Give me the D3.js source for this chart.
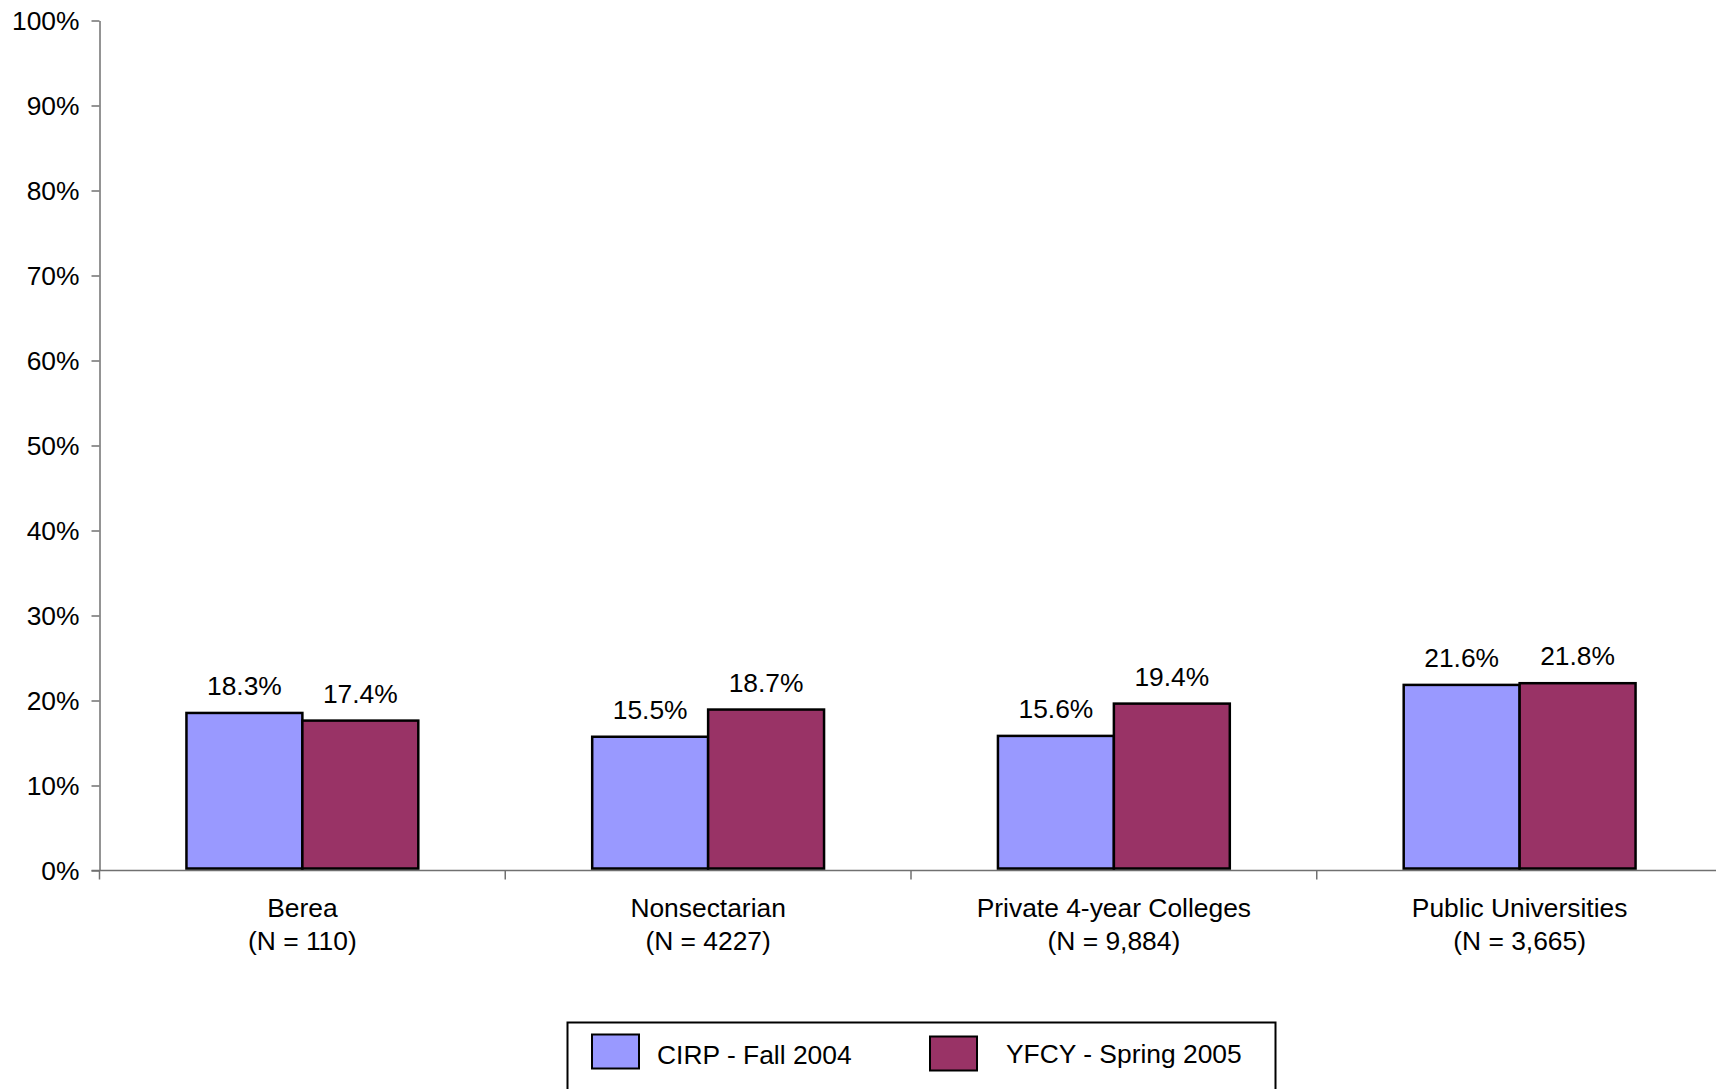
<!DOCTYPE html>
<html>
<head>
<meta charset="utf-8">
<script src="https://cdn.jsdelivr.net/npm/d3@7"></script>
<style>
  html, body { margin: 0; padding: 0; background: #fff; }
  svg { display: block; font-family: "Liberation Sans", Arial, sans-serif; }
</style>
</head>
<body>
<svg id="chart" width="1716" height="1089"></svg>
<script>
const categories = ["Berea", "Nonsectarian", "Private 4-year Colleges", "Public Universities"];
const categorySubLabels = ["(N = 110)", "(N = 4227)", "(N = 9,884)", "(N = 3,665)"];
const seriesNames = ["CIRP - Fall 2004", "YFCY - Spring 2005"];
const cirpValues = [18.3, 15.5, 15.6, 21.6];
const yfcyValues = [17.4, 18.7, 19.4, 21.8];
const seriesColors = ["#9999FF", "#993366"];
const yTicks = [0, 10, 20, 30, 40, 50, 60, 70, 80, 90, 100];

(function () {
const FS = 26.4;
const svg = d3.select("#chart");
const mLeft = 99.5, mRight = 1722.5, mTop = 20.5, mBottom = 870.5;

const y = d3.scaleLinear().domain([0, 100]).range([mBottom, mTop]);
const x0 = d3.scaleBand().domain(categories).range([mLeft, mRight]).paddingInner(0).paddingOuter(0);
const bw = x0.bandwidth();
const barW = bw / 3.5;
const x1 = d3.scaleBand().domain(seriesNames).range([(bw - 2 * barW) / 2, (bw + 2 * barW) / 2]).padding(0);

const seriesValues = [cirpValues, yfcyValues];
const data = categories.map((c, i) => ({
  cat: c,
  vals: seriesNames.map((s, j) => ({ series: s, value: seriesValues[j][i], color: seriesColors[j] }))
}));

// Y axis
const yAxis = d3.axisLeft(y).tickValues(yTicks).tickSize(8).tickSizeOuter(0).tickFormat(d => d + "%");
const gy = svg.append("g").attr("transform", `translate(${mLeft},0)`).call(yAxis);
gy.select(".domain").attr("stroke", "#707070").attr("stroke-width", 1.5);
gy.selectAll(".tick line").attr("stroke", "#707070").attr("stroke-width", 1.5);
gy.selectAll(".tick text").attr("x", -20).attr("dy", "0.35em")
  .attr("font-size", FS).attr("fill", "#000").attr("font-family", "Liberation Sans, Arial, sans-serif");

// X axis line and boundary ticks
svg.append("line").attr("x1", mLeft - 8).attr("x2", mRight).attr("y1", mBottom).attr("y2", mBottom)
  .attr("stroke", "#707070").attr("stroke-width", 1.5);
const boundaries = categories.map(c => x0(c)).concat([x0(categories[categories.length - 1]) + bw]);
svg.selectAll(".xtick").data(boundaries).enter().append("line")
  .attr("x1", d => d).attr("x2", d => d).attr("y1", mBottom).attr("y2", mBottom + 9)
  .attr("stroke", "#707070").attr("stroke-width", 1.5);

// Bars
const groups = svg.selectAll(".grp").data(data).enter().append("g")
  .attr("transform", d => `translate(${x0(d.cat)},0)`);
groups.selectAll("rect").data(d => d.vals).enter().append("rect")
  .attr("x", d => x1(d.series))
  .attr("width", x1.bandwidth())
  .attr("y", d => y(d.value) - 2)
  .attr("height", d => (mBottom - 2) - (y(d.value) - 2))
  .attr("fill", d => d.color)
  .attr("stroke", "#000").attr("stroke-width", 2.5);

groups.selectAll("text.val").data(d => d.vals).enter().append("text")
  .attr("class", "val")
  .attr("x", d => x1(d.series) + x1.bandwidth() / 2)
  .attr("y", d => y(d.value) - 20)
  .attr("text-anchor", "middle").attr("font-size", FS).attr("fill", "#000")
  .text(d => d.value.toFixed(1) + "%");

// Category labels
const catLabels = svg.selectAll(".cat").data(categories).enter().append("text")
  .attr("text-anchor", "middle").attr("font-size", FS).attr("fill", "#000");
catLabels.append("tspan").attr("x", d => x0(d) + bw / 2).attr("y", 917).text(d => d);
catLabels.append("tspan").attr("x", d => x0(d) + bw / 2).attr("y", 950).text((d, i) => categorySubLabels[i]);

// Legend
const lg = svg.append("g");
lg.append("rect").attr("x", 567.5).attr("y", 1022.5).attr("width", 708).attr("height", 100)
  .attr("fill", "#fff").attr("stroke", "#000").attr("stroke-width", 2);
const legendItems = [
  { name: seriesNames[0], color: seriesColors[0], sx: 592, sy: 1034.5, tx: 657, ty: 1064 },
  { name: seriesNames[1], color: seriesColors[1], sx: 930, sy: 1036.5, tx: 1006, ty: 1063 }
];
legendItems.forEach(it => {
  lg.append("rect").attr("x", it.sx).attr("y", it.sy).attr("width", 47).attr("height", 34)
    .attr("fill", it.color).attr("stroke", "#000").attr("stroke-width", 2);
  lg.append("text").attr("x", it.tx).attr("y", it.ty).attr("font-size", FS).attr("fill", "#000").text(it.name);
});
})();
</script>
</body>
</html>
